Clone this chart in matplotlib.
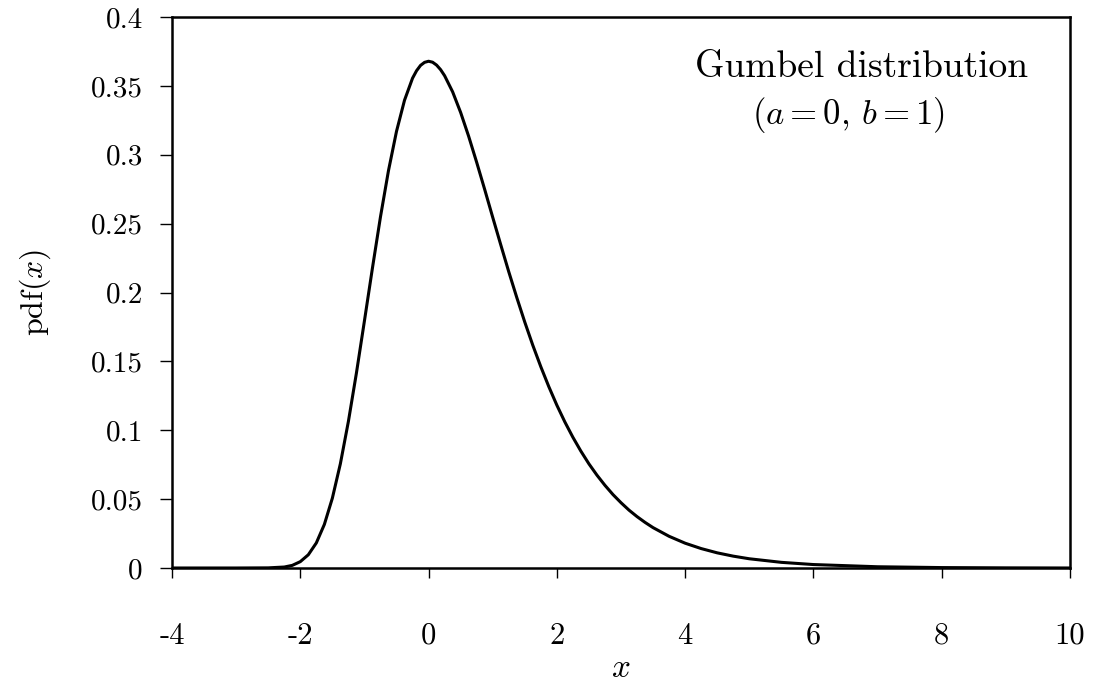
import matplotlib
matplotlib.use('Agg')
import matplotlib.pyplot as plt

# points
x_vals = [-4, -3, -2.5, -2.25, -2.125, -2, -1.875, -1.75, -1.625, -1.5, -1.375,
          -1.25, -1.125, -1, -0.875, -0.75, -0.625, -0.5, -0.375, -0.25, -0.1875,
          -0.125, -0.0625, 0, 0.0625, 0.125, 0.1875, 0.25, 0.375, 0.5, 0.625,
          0.75, 0.875, 1, 1.125, 1.25, 1.375, 1.5, 1.625, 1.75, 1.875, 2, 2.125,
          2.25, 2.375, 2.5, 2.625, 2.75, 2.875, 3, 3.125, 3.25, 3.375, 3.5, 3.75,
          4, 4.25, 4.5, 4.75, 5, 5.5, 6, 7, 8, 9, 10]
pdf_vals = [0, 0, 0.0001, 0.0007, 0.0019, 0.0046, 0.0096, 0.0182, 0.0316, 0.0507, 0.0757,
            0.1064, 0.1415, 0.1794, 0.2178, 0.2549, 0.2885, 0.3170, 0.3396, 0.3556, 0.3610,
            0.3649, 0.3671, 0.3679, 0.3672, 0.3651, 0.3618, 0.3574, 0.3457, 0.3307, 0.3134,
            0.2945, 0.2748, 0.2546, 0.2347, 0.2151, 0.1964, 0.1785, 0.1617, 0.1461, 0.1316, 0.1182, 0.1060,
            0.0949, 0.0848, 0.0756, 0.0674, 0.0600, 0.0533, 0.0474, 0.0420, 0.0373, 0.0331, 0.0293, 0.0230,
            0.0180, 0.0141, 0.0110, 0.0086, 0.0067, 0.0041, 0.0025, 0.0009, 0.0003, 0.0001, 0.0000]

x_ticks = [-4, -2, 0, 2, 4, 6, 8, 10]
x_labels = ['-4', '-2', '0', '2', '4', '6', '8', '10']
y_ticks = [0, 0.05, 0.1, 0.15, 0.2, 0.25, 0.3, 0.35, 0.4]
y_labels = ['0', '0.05', '0.1', '0.15', '0.2', '0.25', '0.3', '0.35', '0.4']

plt.rcParams['font.family'] = 'cmr10'
plt.rcParams['mathtext.fontset'] = 'cm'
plt.rcParams['axes.unicode_minus'] = False

fig = plt.figure(figsize=(11.04, 6.84), dpi=100)
ax = fig.add_axes([0.1558, 0.1696, 0.8134, 0.8055])

ax.plot(x_vals, pdf_vals, color='black', lw=2.2)

ax.set_xlim(-4, 10)
ax.set_ylim(0, 0.4)
ax.set_xticks(x_ticks)
ax.set_xticklabels(x_labels)
ax.set_yticks(y_ticks)
ax.set_yticklabels(y_labels)
ax.tick_params(axis='x', direction='out', length=7, width=1, pad=32, labelsize=22)
ax.tick_params(axis='y', direction='out', length=9, width=1, pad=12, labelsize=21)

for sp in ax.spines.values():
    sp.set_linewidth(1.8)

ax.set_xlabel(r'$x$', fontsize=24, labelpad=3)
ax.set_ylabel(r'pdf$(x)$', fontsize=23, labelpad=27)

ax.text(0.768, 0.891, 'Gumbel distribution', transform=ax.transAxes,
        ha='center', va='baseline', fontsize=27)
ax.text(0.753, 0.805, r'$(a=0,\, b=1)$', transform=ax.transAxes,
        ha='center', va='baseline', fontsize=25)

fig.savefig('out.png', dpi=100)
